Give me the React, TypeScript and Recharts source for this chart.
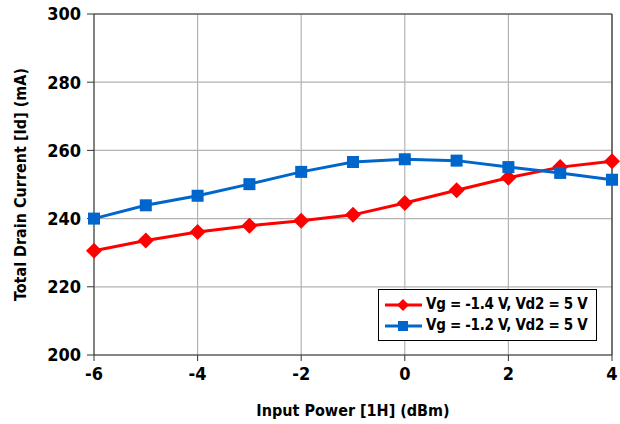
import { LineChart, Line, XAxis, YAxis, CartesianGrid, ReferenceLine } from 'recharts';

const inputPower = [-6, -5, -4, -3, -2, -1, 0, 1, 2, 3, 4];
const currentVg14 = [230.6, 233.6, 236.1, 237.9, 239.4, 241.1, 244.6, 248.3, 252.0, 255.1, 256.8];
const currentVg12 = [240.0, 243.9, 246.7, 250.1, 253.7, 256.6, 257.4, 257.0, 255.1, 253.4, 251.4];
const xTicks = [-6, -4, -2, 0, 2, 4];
const yTicks = [200, 220, 240, 260, 280, 300];
const seriesNames = ['Vg = -1.4 V, Vd2 = 5 V', 'Vg = -1.2 V, Vd2 = 5 V'];

const data = inputPower.map((p, i) => ({
  power: p,
  vg14: currentVg14[i],
  vg12: currentVg12[i],
}));

const FONT = '"DejaVu Sans Condensed", "DejaVu Sans", sans-serif';
const RED = '#ff0000';
const BLUE = '#0066cc';

const Diamond = ({ cx, cy, r = 7, fill }: any) => (
  <path d={`M${cx},${cy - r} L${cx + r},${cy} L${cx},${cy + r} L${cx - r},${cy} Z`} fill={fill} />
);

const Square = ({ cx, cy, s = 6, fill }: any) => (
  <rect x={cx - s} y={cy - s} width={s * 2} height={s * 2} fill={fill} />
);

const LegendBox = () => (
  <div
    style={{
      position: 'absolute',
      left: 378,
      top: 289,
      width: 219,
      height: 52,
      boxSizing: 'border-box',
      border: '1.5px solid #000',
      background: '#fff',
      padding: '4px 0 0 6px',
      fontFamily: FONT,
      fontStretch: 'condensed',
      fontWeight: 'bold',
      fontSize: 15,
      lineHeight: '21px',
      letterSpacing: -0.3,
      color: '#000',
      whiteSpace: 'nowrap',
    }}
  >
    {[RED, BLUE].map((c, i) => (
      <div key={i} style={{ display: 'flex', alignItems: 'center' }}>
        <svg width={37} height={16} style={{ marginRight: 4 }}>
          <line x1={0} y1={8} x2={37} y2={8} stroke={c} strokeWidth={3} />
          {i === 0 ? <Diamond cx={18} cy={8} r={6} fill={c} /> : <Square cx={18} cy={8} s={5} fill={c} />}
        </svg>
        <span>{seriesNames[i]}</span>
      </div>
    ))}
  </div>
);

export default function App() {
  const tickStyle = { fontFamily: FONT, fontStretch: 'condensed', fontWeight: 'bold', fontSize: 18, fill: '#000' };
  const titleStyle = { fontFamily: FONT, fontStretch: 'condensed', fontWeight: 'bold', fontSize: 16, fill: '#000' };
  return (
    <div style={{ position: 'absolute', left: 0, top: 0, width: 620, height: 424, background: '#fff' }}>
      <LineChart width={620} height={424} data={data} margin={{ top: 14, right: 8, left: 0, bottom: 0 }}>
        <CartesianGrid stroke="#b3b3b3" strokeWidth={1.2} />
        <XAxis
          dataKey="power"
          type="number"
          domain={[-6, 4]}
          ticks={xTicks}
          height={69}
          stroke="#333"
          tickSize={6}
          tick={{ ...tickStyle, dy: 4 }}
          tickFormatter={(v) => String(v)}
          label={{ value: 'Input Power [1H] (dBm)', position: 'insideBottom', offset: 8, style: titleStyle }}
        />
        <YAxis
          type="number"
          domain={[200, 300]}
          ticks={yTicks}
          width={94}
          stroke="#333"
          tickSize={7}
          tick={{ ...tickStyle, dx: -4 }}
          label={{ value: 'Total Drain Current [Id] (mA)', angle: -90, position: 'insideLeft', offset: 20, style: { ...titleStyle, textAnchor: 'middle' } }}
        />
        <ReferenceLine y={300} stroke="#333" strokeWidth={1.2} />
        <ReferenceLine x={4} stroke="#333" strokeWidth={1.2} />
        <Line
          dataKey="vg14"
          name={seriesNames[0]}
          stroke={RED}
          strokeWidth={3}
          isAnimationActive={false}
          dot={(p: any) => <Diamond key={`d${p.index}`} cx={p.cx} cy={p.cy} r={8} fill={RED} />}
          activeDot={false}
        />
        <Line
          dataKey="vg12"
          name={seriesNames[1]}
          stroke={BLUE}
          strokeWidth={3}
          isAnimationActive={false}
          dot={(p: any) => <Square key={`s${p.index}`} cx={p.cx} cy={p.cy} s={6} fill={BLUE} />}
          activeDot={false}
        />
      </LineChart>
      <LegendBox />
    </div>
  );
}
